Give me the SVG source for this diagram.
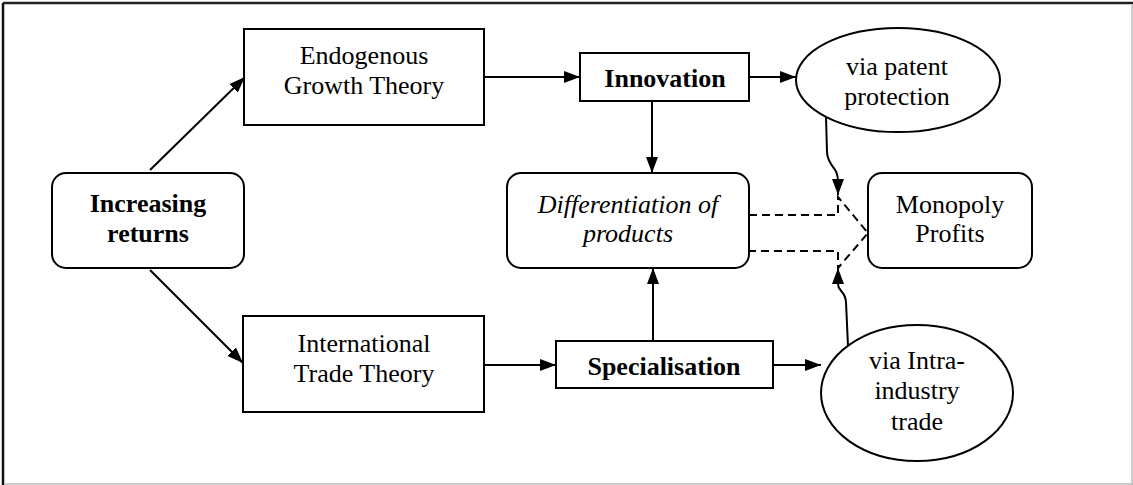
<svg xmlns="http://www.w3.org/2000/svg" width="1133" height="485" viewBox="0 0 1133 485">
<style>
.box{fill:#fff;stroke:#000;stroke-width:2}
.t{font-family:"Liberation Serif","Times New Roman",serif;font-size:26px;fill:#000;text-anchor:middle}
.b{font-weight:bold}
.i{font-style:italic}
.c{fill:none;stroke:#000;stroke-width:2}
.d{fill:none;stroke:#000;stroke-width:2;stroke-dasharray:8,5}
</style>
<defs>
<marker id="ah" viewBox="0 0 16 12" refX="16" refY="6" markerWidth="16" markerHeight="12" markerUnits="userSpaceOnUse" orient="auto">
<path d="M0,0 L16,6 L0,12 Z" fill="#000"/>
</marker>
</defs>
<rect width="1133" height="485" fill="#fff"/>
<g id="frame">
<line x1="3" y1="3" x2="1133" y2="3" stroke="#222" stroke-width="2.5"/>
<line x1="3" y1="3" x2="3" y2="485" stroke="#111" stroke-width="2.5"/>
<line x1="1132" y1="5" x2="1132" y2="485" stroke="#bbb" stroke-width="1.5"/>
<line x1="4" y1="484" x2="1133" y2="484" stroke="#bbb" stroke-width="1.5"/>
</g>
<g id="connectors">
<line class="c" x1="150" y1="170" x2="245" y2="77" marker-end="url(#ah)"/>
<line class="c" x1="150" y1="270" x2="243" y2="363" marker-end="url(#ah)"/>
<line class="c" x1="484" y1="77" x2="580" y2="77" marker-end="url(#ah)"/>
<line class="c" x1="749" y1="77" x2="796" y2="77" marker-end="url(#ah)"/>
<line class="c" x1="484" y1="365" x2="556" y2="365" marker-end="url(#ah)"/>
<line class="c" x1="773" y1="365" x2="821" y2="365" marker-end="url(#ah)"/>
<line class="c" x1="652" y1="101" x2="652" y2="173" marker-end="url(#ah)"/>
<line class="c" x1="653" y1="341" x2="653" y2="268" marker-end="url(#ah)"/>
<path class="c" d="M826,117 L827,152 C828,168 838,165 838,182 L838,195" marker-end="url(#ah)"/>
<path class="c" d="M848,346 L846,302 C845,290 838,292 838,284 L838,268" marker-end="url(#ah)"/>
<path class="d" d="M749,215 L838,215 L838,197 L868,233 L838,268 L838,251 L749,251 Z"/>
</g>
<g id="increasing-returns">
<rect class="box" x="52" y="173" width="192" height="95" rx="14"/>
<text class="t b" x="148" y="212">Increasing</text>
<text class="t b" x="148" y="242">returns</text>
</g>
<g id="endogenous">
<rect class="box" x="244" y="29" width="240" height="96"/>
<text class="t" x="364" y="64">Endogenous</text>
<text class="t" x="364" y="94">Growth Theory</text>
</g>
<g id="international">
<rect class="box" x="243" y="316" width="241" height="96"/>
<text class="t" x="364" y="352">International</text>
<text class="t" x="364" y="382">Trade Theory</text>
</g>
<g id="innovation">
<rect class="box" x="580" y="53" width="169" height="48"/>
<text class="t b" x="665" y="87">Innovation</text>
</g>
<g id="specialisation">
<rect class="box" x="556" y="341" width="217" height="47"/>
<text class="t b" x="664" y="375">Specialisation</text>
</g>
<g id="differentiation">
<rect class="box" x="507" y="173" width="242" height="95" rx="14"/>
<text class="t i" x="628" y="213">Differentiation of</text>
<text class="t i" x="628" y="242">products</text>
</g>
<g id="monopoly">
<rect class="box" x="868" y="173" width="164" height="95" rx="14"/>
<text class="t" x="950" y="213">Monopoly</text>
<text class="t" x="950" y="242">Profits</text>
</g>
<g id="patent">
<ellipse class="box" cx="898" cy="80" rx="102" ry="52"/>
<text class="t" x="897" y="75">via patent</text>
<text class="t" x="897" y="105">protection</text>
</g>
<g id="intra">
<ellipse class="box" cx="917" cy="393" rx="96" ry="68"/>
<text class="t" x="917" y="369">via Intra-</text>
<text class="t" x="917" y="399">industry</text>
<text class="t" x="917" y="430">trade</text>
</g>
</svg>
